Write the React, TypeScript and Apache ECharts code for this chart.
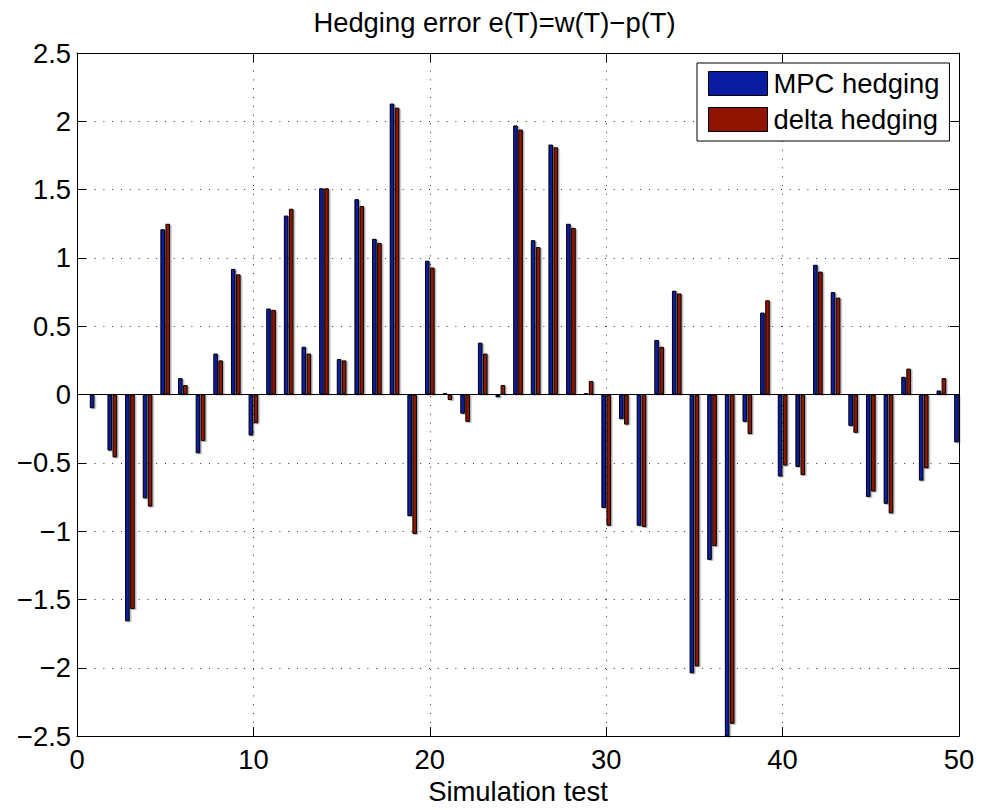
import React, { useEffect, useRef } from 'react';
import * as echarts from 'echarts';

const testIds = [1, 2, 3, 4, 5, 6, 7, 8, 9, 10, 11, 12, 13, 14, 15, 16, 17, 18, 19, 20, 21, 22, 23, 24, 25, 26, 27, 28, 29, 30, 31, 32, 33, 34, 35, 36, 37, 38, 39, 40, 41, 42, 43, 44, 45, 46, 47, 48, 49, 50];

const mpcHedging = [-0.10, -0.41, -1.66, -0.76, 1.21, 0.12, -0.43, 0.30, 0.92, -0.30, 0.63, 1.31, 0.35, 1.51, 0.26, 1.43, 1.14, 2.13, -0.89, 0.98, 0.01, -0.14, 0.38, -0.02, 1.97, 1.13, 1.83, 1.25, 0.01, -0.83, -0.18, -0.96, 0.40, 0.76, -2.04, -1.21, -2.52, -0.20, 0.60, -0.60, -0.53, 0.95, 0.75, -0.23, -0.75, -0.80, 0.13, -0.63, 0.03, -0.35];

const deltaHedging = [0.0, -0.46, -1.57, -0.82, 1.25, 0.07, -0.34, 0.25, 0.88, -0.21, 0.62, 1.36, 0.30, 1.51, 0.25, 1.38, 1.11, 2.10, -1.02, 0.93, -0.04, -0.20, 0.30, 0.07, 1.94, 1.08, 1.81, 1.22, 0.10, -0.96, -0.22, -0.97, 0.35, 0.74, -1.99, -1.11, -2.41, -0.29, 0.69, -0.52, -0.59, 0.90, 0.71, -0.28, -0.71, -0.87, 0.19, -0.54, 0.12, null];

const seriesNames = ['MPC hedging', 'delta hedging'];
const titleText = 'Hedging error e(T)=w(T)\u2212p(T)';
const xAxisName = 'Simulation test';

const FONT = "'Liberation Sans', Arial, Helvetica, sans-serif";
const FS = 27.4;

const fmtNum = (v: number) => (v < 0 ? '\u2212' + String(-v) : String(v));

export default function App() {
  const ref = useRef<HTMLDivElement>(null);
  useEffect(() => {
    if (!ref.current) return;
    const chart = echarts.init(ref.current, null, { renderer: 'svg' });
    const barStyle = (color: string) => ({
      color,
      borderColor: '#000',
      borderWidth: 1,
      shadowColor: 'rgba(0,0,0,0.3)',
      shadowOffsetX: 1.5,
      shadowOffsetY: 1,
      shadowBlur: 0,
    });
    const grid = { left: 77, right: 30, top: 53, bottom: 63, show: false };
    const splitStyle = { show: true, lineStyle: { color: '#333', width: 1, type: [1, 7.8] as any } };
    chart.setOption({
      animation: false,
      backgroundColor: '#fff',
      textStyle: { fontFamily: FONT },
      title: {
        text: titleText,
        left: 'center',
        top: 4,
        textStyle: { fontFamily: FONT, fontSize: FS, fontWeight: 'normal', color: '#000' },
      },
      legend: {
        data: seriesNames,
        orient: 'vertical',
        left: 697,
        top: 63,
        padding: [7, 10, 8, 11],
        itemGap: 9,
        itemWidth: 59,
        itemHeight: 24,
        icon: 'rect',
        backgroundColor: '#fff',
        borderColor: '#000',
        borderWidth: 1,
        textStyle: { fontFamily: FONT, fontSize: FS, color: '#000', lineHeight: 24, padding: [0, 0, 0, 1] },
        itemStyle: { borderColor: '#000', borderWidth: 1, shadowColor: 'rgba(0,0,0,0)' },
      },
      grid,
      xAxis: [
        {
          type: 'value',
          min: 0,
          max: 50,
          interval: 10,
          name: xAxisName,
          nameLocation: 'middle',
          nameGap: 37,
          nameTextStyle: { fontFamily: FONT, fontSize: FS, color: '#000' },
          axisLine: { show: true, onZero: false, lineStyle: { color: '#000', width: 1 } },
          axisTick: { show: true, inside: true, length: 9, lineStyle: { color: '#000' } },
          axisLabel: { margin: 10, fontFamily: FONT, fontSize: FS, color: '#000', formatter: (v: number) => fmtNum(v) },
          splitLine: splitStyle,
        },
        {
          type: 'value',
          position: 'top',
          min: 0,
          max: 50,
          interval: 10,
          axisLine: { show: true, onZero: false, lineStyle: { color: '#000', width: 1 } },
          axisTick: { show: true, inside: true, length: 9, lineStyle: { color: '#000' } },
          axisLabel: { show: false },
          splitLine: { show: false },
        },
      ],
      yAxis: [
        {
          type: 'value',
          min: -2.5,
          max: 2.5,
          interval: 0.5,
          axisLine: { show: true, onZero: false, lineStyle: { color: '#000', width: 1 } },
          axisTick: { show: true, inside: true, length: 9, lineStyle: { color: '#000' } },
          axisLabel: { margin: 6, fontFamily: FONT, fontSize: FS, color: '#000', formatter: (v: number) => fmtNum(v) },
          splitLine: splitStyle,
        },
        {
          type: 'value',
          position: 'right',
          min: -2.5,
          max: 2.5,
          interval: 0.5,
          axisLine: { show: true, onZero: false, lineStyle: { color: '#000', width: 1 } },
          axisTick: { show: true, inside: true, length: 9, lineStyle: { color: '#000' } },
          axisLabel: { show: false },
          splitLine: { show: false },
        },
      ],
      series: [
        {
          name: seriesNames[0],
          type: 'bar',
          xAxisIndex: 0,
          yAxisIndex: 0,
          barWidth: 4.6,
          barGap: '10%',
          clip: true,
          itemStyle: barStyle('#0a1ca0'),
          data: testIds.map((x, i) => [x, mpcHedging[i]]),
          markLine: {
            silent: true,
            symbol: 'none',
            label: { show: false },
            lineStyle: { color: '#000', width: 1.2, type: 'solid' },
            data: [{ yAxis: 0 }],
          },
        },
        {
          name: seriesNames[1],
          type: 'bar',
          xAxisIndex: 0,
          yAxisIndex: 0,
          barWidth: 4.6,
          barGap: '10%',
          clip: true,
          itemStyle: barStyle('#8f1400'),
          data: testIds.map((x, i) => [x, deltaHedging[i]]),
        },
      ],
    });
    return () => chart.dispose();
  }, []);
  return (
    <div
      ref={ref}
      style={{ position: 'fixed', left: 0, top: 0, width: 989, height: 810, background: '#fff' }}
    />
  );
}
